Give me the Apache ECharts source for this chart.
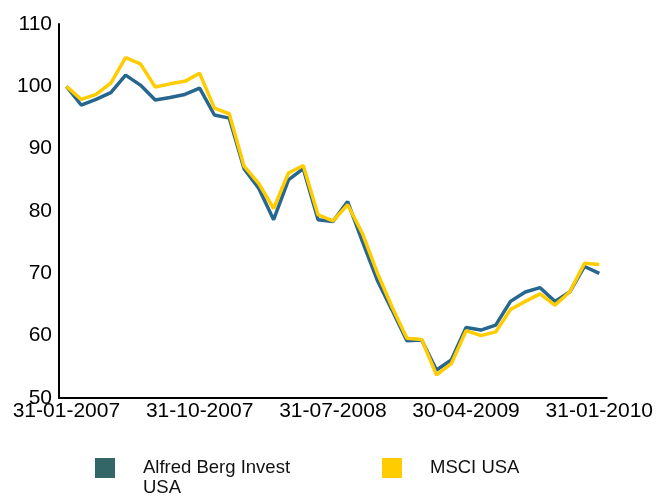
<!DOCTYPE html>
<html>
<head>
<meta charset="utf-8">
<script src="https://cdn.jsdelivr.net/npm/echarts@6/dist/echarts.min.js"></script>
<style>
html,body{margin:0;padding:0;background:#fff;}
#chart{width:656px;height:497px;}
</style>
</head>
<body>
<div id="chart"></div>
<script>
var dates = ['31-01-2007','28-02-2007','31-03-2007','30-04-2007','31-05-2007','30-06-2007','31-07-2007','31-08-2007','30-09-2007','31-10-2007','30-11-2007','31-12-2007','31-01-2008','29-02-2008','31-03-2008','30-04-2008','31-05-2008','30-06-2008','31-07-2008','31-08-2008','30-09-2008','31-10-2008','30-11-2008','31-12-2008','31-01-2009','28-02-2009','31-03-2009','30-04-2009','31-05-2009','30-06-2009','31-07-2009','31-08-2009','30-09-2009','31-10-2009','30-11-2009','31-12-2009','31-01-2010'];
var alfredBerg = [100, 97, 97.9, 99.0, 101.8, 100.2, 97.8, 98.2, 98.7, 99.7, 95.4, 94.9, 86.8, 83.6, 78.6, 85.0, 86.8, 78.6, 78.3, 81.5, 75.1, 68.9, 64.1, 59.2, 59.3, 54.5, 56.1, 61.3, 60.9, 61.7, 65.5, 67.0, 67.7, 65.5, 67.0, 71.1, 70.0];
var msciUsa = [100, 97.9, 98.7, 100.5, 104.6, 103.6, 99.9, 100.4, 100.8, 102.1, 96.5, 95.6, 87.2, 84.4, 80.4, 86.1, 87.3, 79.4, 78.4, 81.0, 76.4, 70.1, 64.6, 59.6, 59.4, 53.7, 55.5, 60.8, 60.0, 60.6, 64.2, 65.5, 66.7, 64.9, 67.0, 71.6, 71.4];
var seriesNames = ['Alfred Berg Invest USA', 'MSCI USA'];

var chart = echarts.init(document.getElementById('chart'));
var legendText = {
  color: '#111', fontSize: 18.5, fontFamily: 'Liberation Sans, Arial, sans-serif',
  width: 165, overflow: 'break', lineHeight: 20, padding: [0, 0, 0, 23]
};
chart.setOption({
  animation: false,
  backgroundColor: '#fff',
  grid: { left: 59, top: 24, right: 48, bottom: 99, containLabel: false },
  legend: [
    { left: 95, top: 438, itemWidth: 20, itemHeight: 20, icon: 'rect', selectedMode: false, padding: 0,
      formatter: function (name) { return '\n' + name; },
      data: [{ name: seriesNames[0], itemStyle: { color: '#336666' } }], textStyle: legendText },
    { left: 382, top: 458, itemWidth: 20, itemHeight: 20, icon: 'rect', selectedMode: false, padding: 0,
      data: [{ name: seriesNames[1], itemStyle: { color: '#ffcc00' } }], textStyle: legendText }
  ],
  xAxis: {
    type: 'category', data: dates, boundaryGap: true,
    axisLine: { lineStyle: { color: '#000', width: 2 } },
    axisTick: { show: false },
    axisLabel: { interval: 8, margin: 3, color: '#000', fontSize: 21, fontFamily: 'Liberation Sans, Arial, sans-serif', hideOverlap: false, showMaxLabel: true }
  },
  yAxis: {
    type: 'value', min: 50, max: 110, interval: 10,
    axisLine: { show: true, lineStyle: { color: '#000', width: 2 } },
    axisTick: { show: false },
    splitLine: { show: false },
    axisLabel: { margin: 7, color: '#000', fontSize: 21, fontFamily: 'Liberation Sans, Arial, sans-serif' }
  },
  series: [
    { name: seriesNames[0], type: 'line', data: alfredBerg, symbol: 'none',
      lineStyle: { color: '#27668f', width: 3.5 }, itemStyle: { color: '#27668f' } },
    { name: seriesNames[1], type: 'line', data: msciUsa, symbol: 'none',
      lineStyle: { color: '#ffcc00', width: 3.5 }, itemStyle: { color: '#ffcc00' } }
  ]
});
</script>
</body>
</html>
